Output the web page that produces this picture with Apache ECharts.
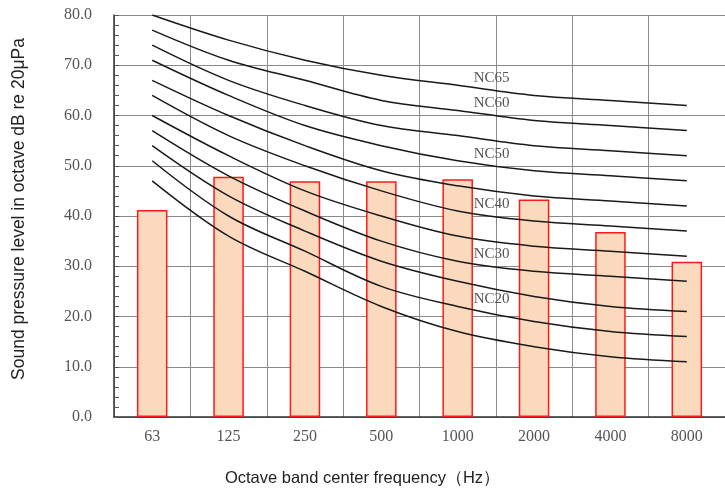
<!DOCTYPE html>
<html><head><meta charset="utf-8">
<script src="https://cdn.jsdelivr.net/npm/echarts@6/dist/echarts.min.js"></script>
<style>html,body{margin:0;padding:0;background:#fff}#c{width:725px;height:489px}</style>
</head><body><div id="c"></div>
<script>
const categories = ['63','125','250','500','1000','2000','4000','8000'];
const measured = [41.2, 47.8, 46.9, 46.9, 47.3, 43.3, 36.8, 30.9];
const ncNames = ['NC15','NC20','NC25','NC30','NC35','NC40','NC45','NC50','NC55','NC60','NC65'];
const nc15 = [47,36,29,22,17,14,12,11];
const nc20 = [51,40,33,26,22,19,17,16];
const nc25 = [54,44,37,31,27,24,22,21];
const nc30 = [57,48,41,35,31,29,28,27];
const nc35 = [60,52,45,40,36,34,33,32];
const nc40 = [64,56,50,45,41,39,38,37];
const nc45 = [67,60,54,49,46,44,43,42];
const nc50 = [71,64,58,54,51,49,48,47];
const nc55 = [74,67,62,58,56,54,53,52];
const nc60 = [77,71,67,63,61,59,58,57];
const nc65 = [80,75,71,68,66,64,63,62];
const ncCurves = [nc15,nc20,nc25,nc30,nc35,nc40,nc45,nc50,nc55,nc60,nc65];
const labelled = ['NC20','NC30','NC40','NC50','NC60','NC65'];
const labelIndex = 4;

const chart = echarts.init(document.getElementById('c'));
const lineSeries = ncCurves.map((vals, k) => ({
  name: ncNames[k], type: 'line', smooth: 0.35, symbol: 'circle', symbolSize: 0.1,
  showSymbol: true, z: 5,
  itemStyle: {color: 'rgba(0,0,0,0)'},
  lineStyle: {color: '#1a1a1a', width: 1.5},
  data: vals.map((v, i) => (i === labelIndex && labelled.includes(ncNames[k])) ? {
    value: v,
    label: {show: true, formatter: ncNames[k], position: 'right', distance: 0, offset: [16, -7],
      fontFamily: 'Liberation Serif', fontSize: 15, color: '#555'}
  } : v)
}));
chart.setOption({
  animation: false,
  grid: {left: 114, right: -10, top: 15, bottom: 72},
  title: {text: 'Octave band center frequency（Hz）', left: 'center', top: 465,
    textStyle: {fontFamily: 'Liberation Sans', fontSize: 16.5, fontWeight: 'normal', color: '#222'}},
  xAxis: {
    type: 'category', data: categories, boundaryGap: true,
    axisLine: {lineStyle: {color: '#333', width: 1.5}},
    axisTick: {show: false},
    axisLabel: {fontFamily: 'Liberation Serif', fontSize: 16, color: '#555', margin: 12},
    splitLine: {show: true, lineStyle: {color: '#8a8a8a', width: 1}}
  },
  yAxis: {
    type: 'value', min: 0, max: 80, interval: 10,
    name: 'Sound pressure level in octave dB re 20μPa', nameLocation: 'middle', nameGap: 86,
    nameTextStyle: {fontFamily: 'Liberation Sans', fontSize: 17.5, color: '#222', padding: [0, 0, 0, 14]},
    axisLine: {show: true, lineStyle: {color: '#333', width: 1.5}},
    axisTick: {show: true, inside: true, length: 5, lineStyle: {color: '#555'}},
    minorTick: {show: true, splitNumber: 5, length: 5, lineStyle: {color: '#555'}},
    axisLabel: {fontFamily: 'Liberation Serif', fontSize: 16, color: '#555', margin: 22,
      formatter: v => v.toFixed(1)},
    splitLine: {show: true, lineStyle: {color: '#8a8a8a', width: 1}}
  },
  series: [{
    name: 'Measured', type: 'bar', data: measured, barWidth: '40%', z: 2,
    itemStyle: {color: '#FBD9BD', borderColor: '#FF1A1A', borderWidth: 1.5}
  }].concat(lineSeries)
});
</script></body></html>
